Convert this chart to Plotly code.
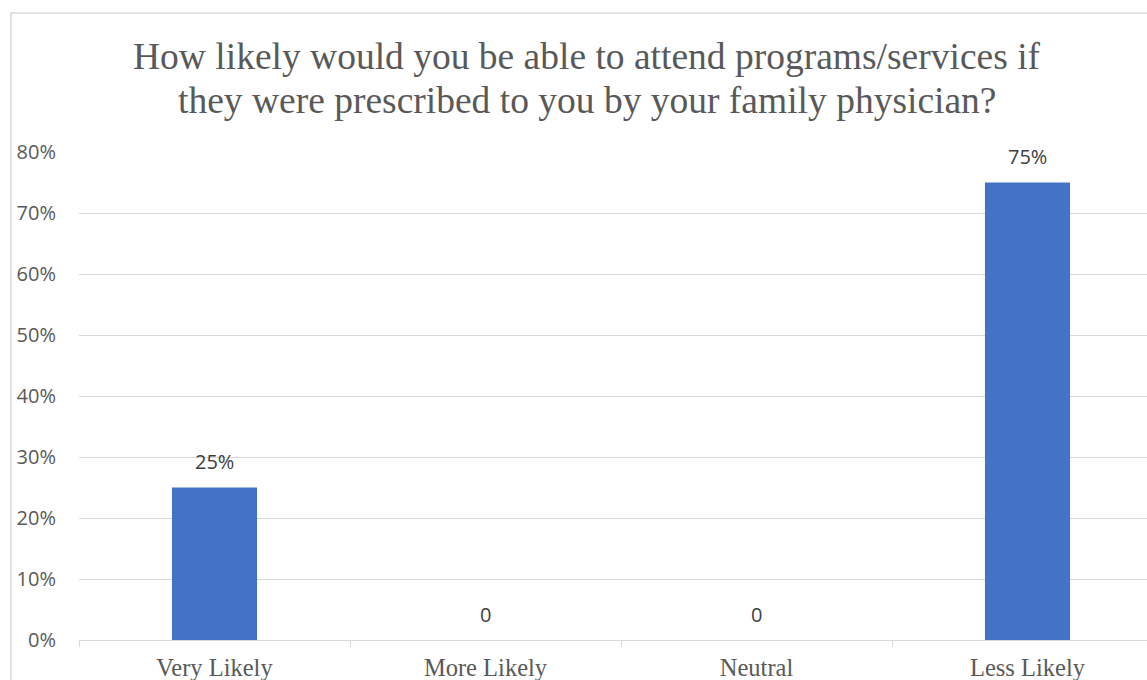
import plotly.graph_objects as go

categories = ["Very Likely", "More Likely", "Neutral", "Less Likely"]
values = [0.25, 0, 0, 0.75]
labels = ["25%", "0", "0", "75%"]
y_ticks = [0, 0.1, 0.2, 0.3, 0.4, 0.5, 0.6, 0.7, 0.8]
y_tick_labels = ["0%", "10%", "20%", "30%", "40%", "50%", "60%", "70%", "80%"]
title_lines = ["How likely would you be able to attend programs/services if",
               "they were prescribed to you by your family physician?"]

W, H = 1147, 680
L, T, B = 79, 152, 40
plot_w = W - L
plot_h = H - T - B
cat_w = 271
SERIF = "Liberation Serif, Times New Roman, serif"
SANS = "Open Sans, Noto Sans, sans-serif"

fig = go.Figure()
fig.add_trace(go.Bar(
    x=categories, y=values,
    marker=dict(color="#4472C4", line=dict(width=0)),
    width=0.314, hoverinfo="x+y",
))

for c, v, t in zip(categories, values, labels):
    fig.add_annotation(x=c, y=v, text=t, showarrow=False, xref="x", yref="y",
                       yanchor="middle", yshift=26,
                       font=dict(family=SANS, size=20, color="#404040"))

for i, line in enumerate(title_lines):
    fig.add_annotation(x=(587 - L) / plot_w, y=(H - B - (57 + 43 * i)) / plot_h,
                       xref="paper", yref="paper", text=line, showarrow=False,
                       xanchor="center", yanchor="middle",
                       font=dict(family=SERIF, size=37.5, color="#595959"))

fig.update_layout(
    width=W, height=H,
    margin=dict(l=L, r=0, t=T, b=B, pad=0),
    paper_bgcolor="white", plot_bgcolor="white",
    showlegend=False,
    xaxis=dict(range=[-0.5, -0.5 + plot_w / cat_w], showgrid=False, showline=True,
               linecolor="#D9D9D9", linewidth=1, ticks="outside", tickson="boundaries",
               ticklen=6, tickcolor="#D9D9D9", ticklabelstandoff=6,
               tickfont=dict(family=SERIF, size=24.5, color="#595959")),
    yaxis=dict(range=[0, 0.8], tickvals=y_ticks, ticktext=y_tick_labels, showgrid=True,
               gridcolor="#D9D9D9", gridwidth=1, zeroline=False, showline=False,
               ticklabelstandoff=22,
               tickfont=dict(family=SANS, size=20, color="#595959")),
    font=dict(family=SANS),
)

fig.add_shape(type="rect", xref="paper", yref="paper",
              x0=(11 - L) / plot_w, x1=(W + 20 - L) / plot_w,
              y0=(H - B - (H + 20)) / plot_h, y1=(H - B - 13) / plot_h,
              line=dict(color="#D9D9D9", width=1.5), fillcolor="rgba(0,0,0,0)", layer="below")

fig.write_html("out.html")
